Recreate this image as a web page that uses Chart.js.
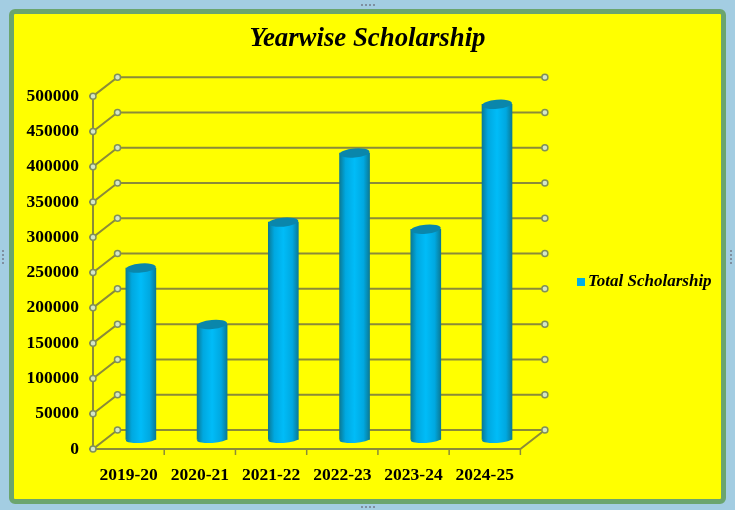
<!DOCTYPE html>
<html>
<head>
<meta charset="utf-8">
<title>Yearwise Scholarship</title>
<script src="https://cdn.jsdelivr.net/npm/chart.js@4"></script>
<style>
  html, body { margin: 0; padding: 0; background: #a3cde2; }
  #frame { position: absolute; left: 9px; top: 9px; width: 707px; height: 485px; background: #ffff00; border: 5px solid #6ba56e; border-radius: 6px; }
  #wrap { position: absolute; left: 0; top: 0; width: 735px; height: 510px; }
  .grip { position: absolute; width: 14px; height: 2px; background: repeating-linear-gradient(90deg, #7f8fa0 0 2px, transparent 2px 4px); }
  .grip.side { width: 2px; height: 14px; background: repeating-linear-gradient(0deg, #7f8fa0 0 2px, transparent 2px 4px); }
</style>
</head>
<body>
<div id="frame"></div>
<div class="grip" style="left:361px;top:4px"></div>
<div class="grip" style="left:361px;top:506px"></div>
<div class="grip side" style="left:2px;top:250px"></div>
<div class="grip side" style="left:730px;top:250px"></div>
<div id="wrap"><canvas id="scholarshipChart" width="735" height="510"></canvas></div>
<script>
// values
const years = ["2019-20", "2020-21", "2021-22", "2022-23", "2023-24", "2024-25"];
const totalScholarship = [243000, 163000, 308000, 406000, 298000, 475000];
const yTicks = [0, 50000, 100000, 150000, 200000, 250000, 300000, 350000, 400000, 450000, 500000];

// fake depth of the 3d box
const depthX = 24.5;
const depthY = 19;
const lineColor = "#8b8b38";
const serif = "'Liberation Serif', 'Times New Roman', serif";

function dot(c, x, y) {
  c.beginPath();
  c.arc(x, y, 3, 0, Math.PI * 2);
  c.fillStyle = "#d4e6c8";
  c.fill();
  c.lineWidth = 1.5;
  c.strokeStyle = "#7f8f5a";
  c.stroke();
}

function barGradient(c, left, right) {
  const g = c.createLinearGradient(left, 0, right, 0);
  g.addColorStop(0, "#0a7a96");
  g.addColorStop(0.2, "#00a8e0");
  g.addColorStop(0.5, "#00bcf8");
  g.addColorStop(0.8, "#00a8e0");
  g.addColorStop(1, "#0a7a96");
  return g;
}

// legend swatch sits closer to the text than Chart.js would put it
const swatch = document.createElement("canvas");
swatch.width = 16;
swatch.height = 8;
const swatchCtx = swatch.getContext("2d");
swatchCtx.fillStyle = "#00aee8";
swatchCtx.fillRect(6, 0, 8, 8);

// walls, side lines and markers of the 3d box
const boxPlugin = {
  id: "box",
  afterLayout(chart) {
    chart.legend.left = 520;
    chart.legend.right = 735;
    chart.legend.top += 23;
    chart.legend.bottom += 23;
    chart.titleBlock.left = 16;
    chart.titleBlock.right = 719;
  },
  beforeDatasetsDraw(chart) {
    const c = chart.ctx;
    const area = chart.chartArea;
    const x = chart.scales.x;
    const y = chart.scales.y;
    const zero = y.getPixelForValue(0);
    c.save();
    c.strokeStyle = lineColor;
    c.lineWidth = 2;
    yTicks.forEach((t) => {
      const py = y.getPixelForValue(t);
      c.beginPath();
      c.moveTo(area.left - 4, py);
      c.lineTo(area.left, py);
      c.lineTo(area.left + depthX, py - depthY);
      c.lineTo(area.right + depthX, py - depthY);
      c.stroke();
    });
    c.beginPath();
    c.moveTo(area.left, y.getPixelForValue(500000));
    c.lineTo(area.left, zero);
    c.lineTo(area.right, zero);
    c.lineTo(area.right + depthX, zero - depthY);
    c.stroke();
    // tick marks between the categories
    c.lineWidth = 1.5;
    years.forEach((year, i) => {
      const tx = x.getPixelForValue(i) + (x.getPixelForValue(1) - x.getPixelForValue(0)) / 2;
      c.beginPath();
      c.moveTo(tx, zero);
      c.lineTo(tx, zero + 6);
      c.stroke();
    });
    yTicks.forEach((t) => {
      const py = y.getPixelForValue(t);
      dot(c, area.left, py);
      dot(c, area.left + depthX, py - depthY);
      dot(c, area.right + depthX, py - depthY);
    });
    c.restore();
  },
  // bars stand halfway into the box
  beforeDatasetDraw(chart, args) {
    const c = chart.ctx;
    c.save();
    c.translate(depthX / 2, -depthY / 2);
    args.meta.data.forEach((bar) => {
      const w = bar.width;
      c.beginPath();
      c.ellipse(bar.x, bar.base, w / 2, 3.5, -0.06, 0, Math.PI * 2);
      c.fillStyle = barGradient(c, bar.x - w / 2, bar.x + w / 2);
      c.fill();
    });
  },
  afterDatasetDraw(chart, args) {
    const c = chart.ctx;
    args.meta.data.forEach((bar) => {
      c.beginPath();
      c.ellipse(bar.x, bar.y, bar.width / 2, 4.5, -0.09, 0, Math.PI * 2);
      c.fillStyle = "#0a86ab";
      c.fill();
    });
    c.restore();
  },
};

const ctx = document.getElementById("scholarshipChart").getContext("2d");
const scholarshipChart = new Chart(ctx, {
  type: "bar",
  data: {
    labels: years,
    datasets: [
      {
        label: "Total Scholarship",
        data: totalScholarship,
        backgroundColor: (context) => {
          const x = context.chart.scales.x;
          if (!x || context.dataIndex === undefined) return "#00aee8";
          const mid = x.getPixelForValue(context.dataIndex);
          return barGradient(context.chart.ctx, mid - 15, mid + 15);
        },
        barThickness: 30,
        clip: false,
      },
    ],
  },
  options: {
    responsive: false,
    animation: false,
    layout: { padding: { left: 20.5, right: 48, top: 23, bottom: 16 } },
    scales: {
      x: {
        grid: { display: false },
        border: { display: false },
        ticks: {
          color: "#000",
          maxRotation: 0,
          padding: 8,
          font: { family: serif, size: 17.5, weight: "bold" },
        },
      },
      y: {
        min: 0,
        max: 500000,
        afterBuildTicks: (scale) => {
          scale.ticks = yTicks.map((v) => ({ value: v }));
        },
        grid: { display: false },
        border: { display: false },
        ticks: {
          color: "#000",
          padding: 6,
          callback: (v) => String(v),
          font: { family: serif, size: 17.5, weight: "bold" },
        },
      },
    },
    plugins: {
      title: {
        display: true,
        text: "Yearwise Scholarship",
        color: "#000",
        font: { family: serif, size: 26.8, weight: "bold", style: "italic" },
        padding: { top: 0, bottom: 41 },
      },
      legend: {
        position: "right",
        labels: {
          color: "#000",
          boxWidth: 1,
          boxHeight: 8,
          usePointStyle: true,
          padding: 58.5,
          font: { family: serif, size: 17, weight: "bold", style: "italic" },
          generateLabels: () => [
            { text: "Total Scholarship", fillStyle: "#00aee8", strokeStyle: "#00aee8", lineWidth: 0, pointStyle: swatch },
          ],
        },
      },
      tooltip: { enabled: false },
    },
  },
  plugins: [boxPlugin],
});
</script>
</body>
</html>
